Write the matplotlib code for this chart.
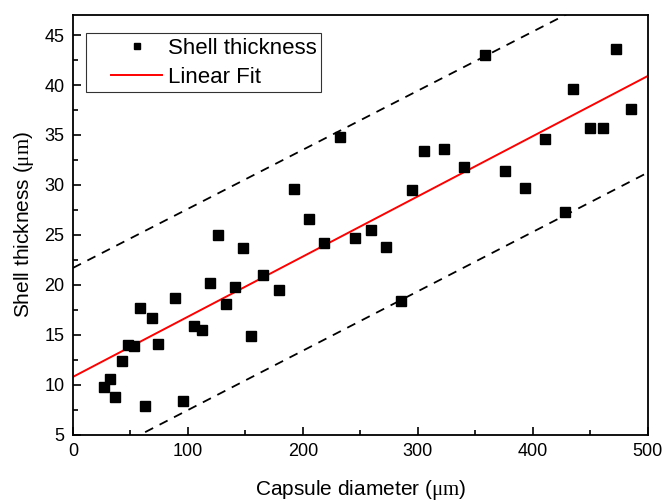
import matplotlib
matplotlib.use("Agg")
import matplotlib.pyplot as plt
import numpy as np
from matplotlib.ticker import MultipleLocator
from matplotlib.lines import Line2D
from matplotlib.legend_handler import HandlerLine2D

plt.rcParams['font.family'] = ['Liberation Sans', 'DejaVu Sans']
plt.rcParams['mathtext.fontset'] = 'custom'
plt.rcParams['mathtext.rm'] = 'Liberation Serif'

diameter = [26.9, 32, 37, 42.5, 47.7, 53, 58, 63, 68.6, 73.8, 89, 96, 105, 112, 119, 126,
            133, 141, 148, 155, 165, 179, 192, 205, 218, 232, 245, 259, 272, 285, 295,
            305, 323, 340, 358, 376, 393, 410.6, 428, 435, 450, 461, 472, 485]
thickness = [9.8, 10.6, 8.8, 12.4, 14.0, 13.9, 17.7, 7.9, 16.7, 14.1, 18.7, 8.4, 15.9, 15.5,
             20.2, 25.0, 18.1, 19.8, 23.7, 14.9, 21.0, 19.5, 29.6, 26.6, 24.2, 34.8, 24.7,
             25.5, 23.8, 18.4, 29.5, 33.4, 33.6, 31.8, 43.0, 31.4, 29.7, 34.6, 27.3, 39.6,
             35.7, 35.7, 43.6, 37.6]

fit_intercept, fit_slope = 10.8, 0.0602
upper_intercept, upper_slope = 21.7, 0.0591
lower_intercept, lower_slope = 1.54, 0.0594

fig = plt.figure(figsize=(6.63, 5.01), dpi=100)
ax = fig.add_axes([0.110, 0.132, 0.867, 0.838])

xs = np.array([0, 500])
ax.plot(xs, upper_intercept + upper_slope * xs, color='black', lw=1.3, ls=(0, (5, 4)))
ax.plot(xs, lower_intercept + lower_slope * xs, color='black', lw=1.3, ls=(0, (5, 4)))
ax.plot(diameter, thickness, 's', color='black', ms=7, label='Shell thickness', zorder=3)
ax.plot(xs, fit_intercept + fit_slope * xs, color='red', lw=1.4, label='Linear Fit')

ax.set_xlim(0, 500)
ax.set_ylim(5, 47)
ax.xaxis.set_major_locator(MultipleLocator(100))
ax.xaxis.set_minor_locator(MultipleLocator(50))
ax.yaxis.set_major_locator(MultipleLocator(5))
ax.yaxis.set_minor_locator(MultipleLocator(2.5))
ax.tick_params(which='both', direction='in', top=False, right=False, labelsize=13, width=1.2)
ax.tick_params(which='major', length=6, pad=6)
ax.tick_params(which='minor', length=3.5)
for s in ax.spines.values():
    s.set_linewidth(1.3)

ax.set_xlabel(r'Capsule diameter ($\mathrm{\mu m}$)', fontsize=15, labelpad=12.5)
ax.set_ylabel(r'Shell thickness ($\mathrm{\mu m}$)', fontsize=15, labelpad=6)

leg = ax.legend(loc='upper left', bbox_to_anchor=(0.022, 0.957), borderaxespad=0,
                fontsize=16, markerscale=0.7,
                handler_map={Line2D: HandlerLine2D(xpad=0.94)},
                frameon=True, fancybox=False, edgecolor='black', handlelength=3.25,
                borderpad=0.2, labelspacing=0.36, handletextpad=0.27)
leg.get_frame().set_linewidth(0.8)

fig.savefig('out.png', dpi=100)
